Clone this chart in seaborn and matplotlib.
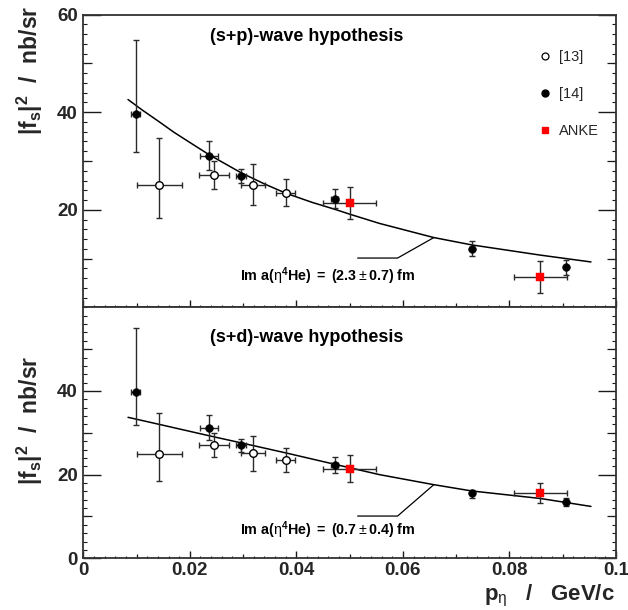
import numpy as np
import pandas as pd
import matplotlib
matplotlib.use("Agg")
import matplotlib.pyplot as plt
from matplotlib.lines import Line2D
from matplotlib.ticker import FixedLocator, FixedFormatter, MultipleLocator
import seaborn as sns

# --- data ---
# [13] open circles (same in both panels)
ref13_x = [0.0143, 0.0246, 0.0319, 0.0380]
ref13_xerr = [0.0042, 0.0028, 0.0023, 0.0018]
ref13_y = [25.0, 27.2, 25.1, 23.5]
ref13_ylo = [6.6, 2.9, 4.2, 2.8]
ref13_yhi = [9.8, 2.7, 4.2, 2.9]

# [14] filled circles
ref14_x = [0.0098, 0.0236, 0.0296, 0.0472, 0.0729, 0.0906]
ref14_xerr = [0.0009, 0.0016, 0.0010, 0.0007, 0.0, 0.0]
ref14_y_sp = [39.6, 31.1, 27.0, 22.2, 12.0, 8.2]
ref14_y_sd = [39.7, 31.1, 27.0, 22.3, 15.5, 13.4]
ref14_ylo_sp = [7.8, 2.9, 1.5, 1.9, 1.5, 1.6]
ref14_yhi_sp = [15.3, 3.0, 1.4, 2.0, 1.5, 1.6]
ref14_ylo_sd = [7.9, 2.8, 1.6, 2.0, 1.1, 0.9]
ref14_yhi_sd = [15.3, 3.1, 1.4, 1.9, 0.9, 0.9]

# ANKE red squares
anke_x = [0.0500, 0.0858]
anke_xerr = [0.0050, 0.0050]
anke_y_sp = [21.4, 6.2]
anke_y_sd = [21.3, 15.6]
anke_ylo_sp = [3.2, 3.3]
anke_yhi_sp = [3.2, 3.2]
anke_ylo_sd = [3.1, 2.3]
anke_yhi_sd = [3.3, 2.4]

# fit curves
fit_x_sp = [0.0084, 0.0110, 0.0143, 0.0170, 0.0200, 0.0236, 0.0296, 0.0340,
            0.0380, 0.0430, 0.0472, 0.0500, 0.0556, 0.0658, 0.0729, 0.0858, 0.0953]
fit_y_sp = [42.6, 40.5, 38.0, 35.9, 33.8, 31.3, 27.6, 25.3,
            23.4, 21.5, 20.1, 19.1, 17.2, 14.3, 12.8, 10.7, 9.3]
fit_x_sd = [0.0084, 0.0150, 0.0236, 0.0296, 0.0380, 0.0471, 0.0556, 0.0658,
            0.0729, 0.0858, 0.0953]
fit_y_sd = [33.7, 31.8, 29.3, 27.6, 25.2, 22.5, 20.0, 17.6, 16.1, 14.3, 12.4]

x_ticks = [0, 0.02, 0.04, 0.06, 0.08, 0.1]
x_ticklabels = ["0", "0.02", "0.04", "0.06", "0.08", "0.1"]

titles = ["(s+p)-wave hypothesis", "(s+d)-wave hypothesis"]
fit_labels = [r"$\mathbf{Im\ a(}\mathrm{\eta}^{\mathbf{4}}\mathbf{He)\ =\ (2.3}\pm\mathbf{0.7)\ fm}$",
              r"$\mathbf{Im\ a(}\mathrm{\eta}^{\mathbf{4}}\mathbf{He)\ =\ (0.7}\pm\mathbf{0.4)\ fm}$"]
pointer_x = [0.0515, 0.0590, 0.0658]
pointer_y_sp = [10.1, 10.1, 14.3]
pointer_y_sd = [10.1, 10.1, 17.6]

sns.set_theme(style="ticks")
plt.rcParams["font.family"] = ["Liberation Sans", "DejaVu Sans"]
plt.rcParams["mathtext.fontset"] = "custom"
plt.rcParams["mathtext.rm"] = "Liberation Sans"
plt.rcParams["mathtext.bf"] = "Liberation Sans:bold"
plt.rcParams["mathtext.it"] = "Liberation Sans:italic"

W, H = 628, 610
fig = plt.figure(figsize=(W / 100, H / 100), dpi=100)
x0, x1 = 83.3, 616.0
ax1 = fig.add_axes([x0 / W, 1 - 307.3 / H, (x1 - x0) / W, (307.3 - 14.7) / H])
ax2 = fig.add_axes([x0 / W, 1 - 558.3 / H, (x1 - x0) / W, (558.3 - 307.3) / H])

ink = "#1a1a1a"
panels = [
    (ax1, ref14_y_sp, ref14_ylo_sp, ref14_yhi_sp, anke_y_sp, anke_ylo_sp, anke_yhi_sp,
     fit_x_sp, fit_y_sp, pointer_y_sp, [20, 40, 60]),
    (ax2, ref14_y_sd, ref14_ylo_sd, ref14_yhi_sd, anke_y_sd, anke_ylo_sd, anke_yhi_sd,
     fit_x_sd, fit_y_sd, pointer_y_sd, [0, 20, 40]),
]

for i, (ax, y14, lo14, hi14, ya, loa, hia, fx, fy, py, yt) in enumerate(panels):
    # fit curve
    sns.lineplot(x=fx, y=fy, ax=ax, color="black", lw=1.1, sort=False,
                 estimator=None, zorder=2)
    ax.plot(pointer_x, py, color="black", lw=0.9, zorder=2)

    eb = dict(fmt="none", ecolor="#2a2a2a", elinewidth=1.0, capsize=2.2,
              capthick=1.0, zorder=3)
    ax.errorbar(ref13_x, ref13_y, xerr=ref13_xerr, yerr=[ref13_ylo, ref13_yhi], **eb)
    ax.errorbar(ref14_x, y14, xerr=ref14_xerr, yerr=[lo14, hi14], **eb)
    ax.errorbar(anke_x, ya, xerr=anke_xerr, yerr=[loa, hia], **eb)

    sns.scatterplot(x=ref13_x, y=ref13_y, ax=ax, marker="o", s=30,
                    facecolor="white", edgecolor="black", linewidth=1.0, zorder=4)
    sns.scatterplot(x=ref14_x, y=y14, ax=ax, marker="o", s=30,
                    color="black", edgecolor="black", linewidth=0.5, zorder=4)
    sns.scatterplot(x=anke_x, y=ya, ax=ax, marker="s", s=30,
                    color="#ff0000", edgecolor="#ff0000", linewidth=0.3, zorder=5)

    ax.set_xlim(0, 0.1)
    ax.set_ylim(0, 60)

    # ticks, ROOT style
    ax.yaxis.set_major_locator(FixedLocator(yt))
    ax.yaxis.set_minor_locator(MultipleLocator(2))
    ax.xaxis.set_major_locator(FixedLocator(x_ticks))
    ax.xaxis.set_major_formatter(FixedFormatter(x_ticklabels))
    ax.xaxis.set_minor_locator(MultipleLocator(0.002))
    ax.tick_params(axis="y", which="major", direction="in", length=13, width=1.0,
                   right=True, color=ink, pad=4, labelsize=13.5)
    ax.tick_params(axis="y", which="minor", direction="in", length=3, width=0.8,
                   right=True, color=ink)
    ax.tick_params(axis="x", which="major", direction="in", length=5, width=1.0,
                   color=ink, pad=3, labelsize=13.5)
    ax.tick_params(axis="x", which="minor", direction="in", length=1.5, width=0.8,
                   color=ink)
    for lab in ax.get_xticklabels() + ax.get_yticklabels():
        lab.set_fontweight("bold")
    if i == 0:
        ax.tick_params(axis="x", labelbottom=False)

    # medium ticks
    for side in ["left", "right"]:
        sec = ax.secondary_yaxis(side)
        sec.set_yticks([10, 30, 50])
        sec.tick_params(direction="in", length=6.5, width=0.9, color=ink,
                        labelleft=False, labelright=False)
        sec.spines[side].set_visible(False)
    secx = ax.secondary_xaxis("bottom")
    secx.set_xticks([0.01, 0.03, 0.05, 0.07, 0.09])
    secx.tick_params(direction="in", length=3, width=0.9, color=ink, labelbottom=False)
    secx.spines["bottom"].set_visible(False)

    for s in ax.spines.values():
        s.set_color("#333333")
        s.set_linewidth(1.3)
    ax.set_xlabel("")
    ax.set_ylabel("")

    ax.text(0.0419, 55.5 if i == 0 else 52.7, titles[i], ha="center", va="center",
            fontsize=13, fontweight="bold", color="black")
    ax.text(0.0459, 6.3 if i == 0 else 6.6, fit_labels[i], ha="center", va="center",
            fontsize=10.3, color="black")

# legend
handles = [
    Line2D([], [], ls="none", marker="o", ms=5, mfc="white", mec="black", mew=0.9),
    Line2D([], [], ls="none", marker="o", ms=5, mfc="black", mec="black"),
    Line2D([], [], ls="none", marker="s", ms=5, mfc="#ff0000", mec="#ff0000"),
]
ax1.legend(handles, ["[13]", "[14]", "ANKE"], loc="upper left",
           bbox_to_anchor=(0.843, 0.905), frameon=False, fontsize=10.5,
           handlelength=0.8, handletextpad=0.5, labelspacing=1.6, borderpad=0)

ylab = r"$\mathbf{|f_{s}|^{2}}$  /  nb/sr"
fig.text(30 / W, 1 - 70 / H, ylab, rotation=90, ha="center", va="center",
         fontsize=16.5, fontweight="bold")
fig.text(30 / W, 1 - 420 / H, ylab, rotation=90, ha="center", va="center",
         fontsize=16.5, fontweight="bold")
fig.text(615 / W, 1 - 600 / H, r"$\mathbf{p}_{\mathrm{\eta}}$   /   GeV/c", ha="right",
         va="baseline", fontsize=16, fontweight="bold")

fig.savefig("out.png", dpi=100)
